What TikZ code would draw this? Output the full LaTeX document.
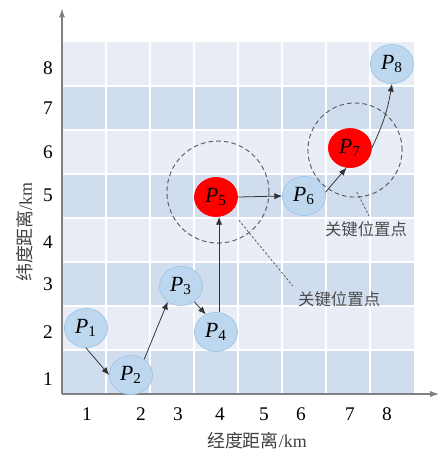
\documentclass[tikz,border=0pt]{standalone}
\usepackage{fontspec}
\setmainfont{Liberation Serif}
\newfontfamily\cjk{Noto Sans CJK SC}
\usepackage{tikz}
\usepackage{xcolor}
\usetikzlibrary{positioning, shapes.geometric, arrows.meta}

\definecolor{RowDark}{RGB}{208,221,238}
\definecolor{RowLight}{RGB}{232,237,246}
\definecolor{PtBlue}{RGB}{189,215,238}
\definecolor{PtEdge}{RGB}{157,195,230}
\definecolor{AxisGray}{RGB}{128,128,128}
\definecolor{RingGray}{RGB}{90,90,90}

\begin{document}
\begin{tikzpicture}[
  every node/.style={font=\fontsize{12.5}{14}\selectfont},
  pt/.style={ellipse, draw=PtEdge, fill=PtBlue, minimum width=0.98cm, minimum height=0.89cm, inner sep=0pt, font=\fontsize{14}{16}\selectfont},
  keypt/.style={pt, draw=red, fill=red},
  arrow/.style={-{Latex[length=5pt, width=4pt]}, draw=black!80, line width=0.5pt},
  axis/.style={-{Latex[length=6pt, width=4pt]}, draw=AxisGray, line width=1pt},
  ring/.style={dashed, dash pattern=on 3pt off 2pt, draw=RingGray, line width=0.6pt},
  leader/.style={dash pattern=on 1.5pt off 1.2pt, draw=RingGray, line width=0.5pt},
  note/.style={font=\cjk\fontsize{10.6}{12}\selectfont, text=black!70}
]
\useasboundingbox (-1.409,-1.341) rectangle (8.614,8.955);

% Background bands and grid
\foreach \r in {0,2,4,6} \fill[RowDark] (0,\r) rectangle (8,\r+1);
\foreach \r in {1,3,5,7} \fill[RowLight] (0,\r) rectangle (8,\r+1);
\foreach \x in {1,...,7} \draw[white, line width=1pt] (\x,0) -- (\x,8);
\foreach \y in {1,...,7} \draw[white, line width=1.2pt] (0,\y) -- (8,\y);

% Axes
\coordinate (O) at (0,0);
\coordinate (ytop) at (0,8.77);
\coordinate (xend) at (8.58,0);
\draw[axis] (O) -- (ytop);
\draw[axis] (O) -- (xend);

% Tick labels
\foreach \v/\yy in {1/0.34, 2/1.41, 3/2.5, 4/3.45, 5/4.52, 6/5.5, 7/6.5, 8/7.41}
  \node (yl\v) at (-0.32,\yy) {\v};
\foreach \v/\xx in {1/0.568, 2/1.795, 3/2.636, 4/3.59, 5/4.59, 6/5.43, 7/6.545, 8/7.386}
  \node (xl\v) at (\xx,-0.455) {\v};

% Axis titles
\node[font=\fontsize{11.6}{13}\selectfont, text=black!75] (xtitle) at (4.43,-1.07) {{\cjk 经度距离}/km};
\node[font=\fontsize{11.6}{13}\selectfont, text=black!75, rotate=90] (ytitle) at (-0.84,3.68) {{\cjk 纬度距离}/km};

% Key position rings
\node[circle, ring, minimum size=2.32cm] (ring5) at (3.545,4.59) {};
\node[circle, ring, minimum size=2.14cm] (ring7) at (6.66,5.545) {};

% Points
\node[pt] (P1) at (0.545,1.5) {\textit{P}\textsubscript{1}};
\node[pt] (P2) at (1.568,0.432) {\textit{P}\textsubscript{2}};
\node[pt] (P3) at (2.705,2.455) {\textit{P}\textsubscript{3}};
\node[pt] (P4) at (3.5,1.409) {\textit{P}\textsubscript{4}};
\node[keypt] (P5) at (3.5,4.477) {\textit{P}\textsubscript{5}};
\node[pt] (P6) at (5.5,4.5) {\textit{P}\textsubscript{6}};
\node[keypt] (P7) at (6.545,5.59) {\textit{P}\textsubscript{7}};
\node[pt] (P8) at (7.5,7.5) {\textit{P}\textsubscript{8}};

% Path
\draw[arrow] (P1.south) -- (P2.west);
\draw[arrow] (P2.50) -- (P3.-130);
\draw[arrow] (P3.-50) -- (P4.120);
\draw[arrow] ([xshift=2pt]P4.north) -- ([xshift=2pt]P5.south);
\draw[arrow] (P5.east) -- (P6.west);
\draw[arrow] (P6.10) -- (P7.-100);
\draw[arrow] (P7.east) to[bend right=8] (P8.south);

% Labels for key points
\coordinate (lead5) at (4.02,3.95);
\coordinate (lead7) at (6.70,4.59);
\node[note] (key5) at (6.3,2.16) {关键位置点};
\node[note] (key7) at (6.91,3.75) {关键位置点};
\draw[leader] (lead5) -- (key5.north west);
\draw[leader] (lead7) -- ([xshift=2pt]key7.north);

\end{tikzpicture}
\end{document}
